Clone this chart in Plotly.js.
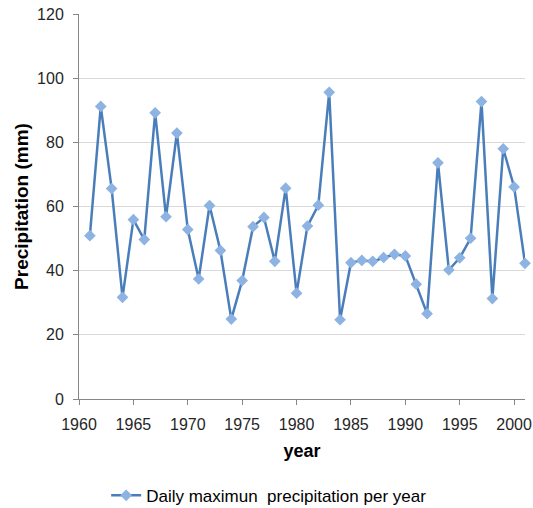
<!DOCTYPE html>
<html>
<head>
<meta charset="utf-8">
<script src="https://cdn.plot.ly/plotly-3.0.1.min.js"></script>
<style>
  html, body { margin: 0; padding: 0; background: #fff; }
  #chart { width: 533px; height: 508px; }
</style>
</head>
<body>
<div id="chart"></div>
<script>
// Annual maximum daily precipitation (mm), 1961–2001
const years = [
  1961, 1962, 1963, 1964, 1965, 1966, 1967, 1968, 1969, 1970,
  1971, 1972, 1973, 1974, 1975, 1976, 1977, 1978, 1979, 1980,
  1981, 1982, 1983, 1984, 1985, 1986, 1987, 1988, 1989, 1990,
  1991, 1992, 1993, 1994, 1995, 1996, 1997, 1998, 1999, 2000, 2001
];
const maxDailyPrecip = [
  50.9, 91.2, 65.6, 31.7, 55.9, 49.7, 89.2, 56.8, 82.9, 52.8,
  37.4, 60.3, 46.3, 24.9, 36.9, 53.7, 56.6, 42.9, 65.7, 33.0,
  53.9, 60.4, 95.6, 24.7, 42.5, 43.2, 42.9, 44.1, 45.1, 44.6,
  35.8, 26.6, 73.6, 40.2, 44.0, 50.1, 92.7, 31.3, 78.0, 66.1, 42.3
];
const seriesName = 'Daily maximun\u00a0 precipitation per year';
const xTitle = 'year';
const yTitle = 'Precipitation (mm)';

const trace = {
  x: years,
  y: maxDailyPrecip,
  type: 'scatter',
  mode: 'lines+markers',
  name: seriesName,
  cliponaxis: false,
  line: { color: '#4a7ebb', width: 2.5 },
  marker: { symbol: 'diamond', size: 9, color: '#8db3e2', line: { width: 0 } }
};

const axisFont = { family: 'Liberation Sans, Arial, sans-serif', size: 16, color: '#262626' };

const layout = {
  width: 533,
  height: 508,
  margin: { l: 79, r: 8, t: 14, b: 109 },
  paper_bgcolor: '#ffffff',
  plot_bgcolor: '#ffffff',
  showlegend: true,
  legend: {
    orientation: 'h',
    xref: 'container', yref: 'container',
    x: 0.505, xanchor: 'center',
    y: 0.024, yanchor: 'middle',
    font: { family: 'Liberation Sans, Arial, sans-serif', size: 17, color: '#000' }
  },
  xaxis: {
    range: [1960, 2001],
    tick0: 1960, dtick: 5,
    showgrid: false, zeroline: false,
    showline: true, linecolor: '#868686', linewidth: 1,
    ticks: 'outside', ticklen: 5, tickcolor: '#868686',
    ticklabelstandoff: 6,
    tickfont: axisFont,
    title: { text: xTitle, standoff: 12, font: { family: 'Liberation Sans, Arial, sans-serif', size: 18, color: '#000', weight: 'bold' } }
  },
  yaxis: {
    range: [0, 120],
    tick0: 0, dtick: 20,
    showgrid: true, gridcolor: '#d9d9d9', gridwidth: 1,
    zeroline: false,
    showline: true, linecolor: '#868686', linewidth: 1,
    ticks: 'outside', ticklen: 5, tickcolor: '#868686',
    ticklabelstandoff: 6,
    tickfont: axisFont,
    title: { text: yTitle, standoff: 3, font: { family: 'Liberation Sans, Arial, sans-serif', size: 19, color: '#000', weight: 'bold' } }
  }
};

Plotly.newPlot('chart', [trace], layout, { displayModeBar: false, staticPlot: true });
</script>
</body>
</html>
